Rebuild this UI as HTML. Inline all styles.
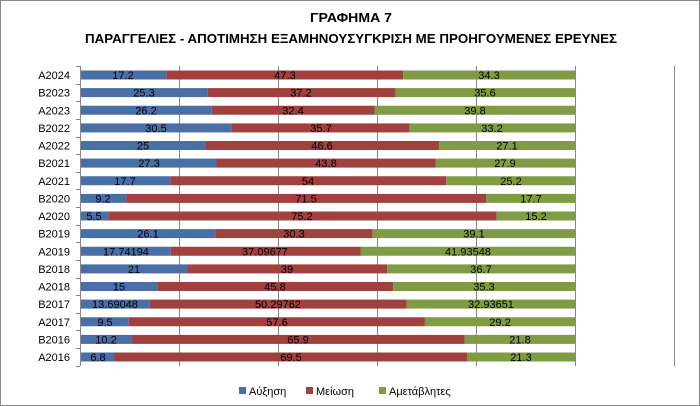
<!DOCTYPE html>
<html><head><meta charset="utf-8"><style>
body{margin:0;background:#fff}
svg{display:block}
text{font-family:"Liberation Sans",sans-serif}
.c{font-size:11px;fill:#000}
.v{font-size:11px;fill:#000;text-anchor:middle}
.t{font-size:13px;font-weight:bold;text-anchor:middle}
</style></head><body>
<svg width="700" height="406" viewBox="0 0 700 406">
<rect x="0.5" y="0.5" width="699" height="405" fill="#fff" stroke="#888"/>
<text class="t" x="351" y="22" textLength="82" lengthAdjust="spacingAndGlyphs">ΓΡΑΦΗΜΑ 7</text>
<text class="t" x="351" y="43" textLength="532" lengthAdjust="spacingAndGlyphs">ΠΑΡΑΓΓΕΛΙΕΣ - ΑΠΟΤΙΜΗΣΗ  ΕΞΑΜΗΝΟΥΣΥΓΚΡΙΣΗ ΜΕ ΠΡΟΗΓΟΥΜΕΝΕΣ ΕΡΕΥΝΕΣ</text>
<g stroke="#888" stroke-width="1">
<line x1="179.5" y1="66" x2="179.5" y2="366"/><line x1="278.5" y1="66" x2="278.5" y2="366"/>
<line x1="377.5" y1="66" x2="377.5" y2="366"/><line x1="476.5" y1="66" x2="476.5" y2="366"/>
<line x1="575.5" y1="66" x2="575.5" y2="366"/><line x1="674.5" y1="66" x2="674.5" y2="366"/>
<line x1="80.5" y1="66" x2="80.5" y2="366"/>
</g>
<g stroke="#888"><line x1="76" y1="66.5" x2="80" y2="66.5"/><line x1="76" y1="84.5" x2="80" y2="84.5"/><line x1="76" y1="101.5" x2="80" y2="101.5"/><line x1="76" y1="119.5" x2="80" y2="119.5"/><line x1="76" y1="137.5" x2="80" y2="137.5"/><line x1="76" y1="154.5" x2="80" y2="154.5"/><line x1="76" y1="172.5" x2="80" y2="172.5"/><line x1="76" y1="189.5" x2="80" y2="189.5"/><line x1="76" y1="207.5" x2="80" y2="207.5"/><line x1="76" y1="225.5" x2="80" y2="225.5"/><line x1="76" y1="242.5" x2="80" y2="242.5"/><line x1="76" y1="260.5" x2="80" y2="260.5"/><line x1="76" y1="278.5" x2="80" y2="278.5"/><line x1="76" y1="295.5" x2="80" y2="295.5"/><line x1="76" y1="313.5" x2="80" y2="313.5"/><line x1="76" y1="330.5" x2="80" y2="330.5"/><line x1="76" y1="348.5" x2="80" y2="348.5"/><line x1="76" y1="366.5" x2="80" y2="366.5"/></g>

<g id="bars">
<rect x="81" y="70.5" width="85.2" height="9" fill="#4a6fa5"/><rect x="166.2" y="70.5" width="237" height="9" fill="#a0403f"/><rect x="403.2" y="70.5" width="172.3" height="9" fill="#7f9c44"/>
<rect x="81" y="88.1" width="126.7" height="9" fill="#4a6fa5"/><rect x="207.7" y="88.1" width="187.7" height="9" fill="#a0403f"/><rect x="395.4" y="88.1" width="180.1" height="9" fill="#7f9c44"/>
<rect x="81" y="105.75" width="130.8" height="9" fill="#4a6fa5"/><rect x="211.8" y="105.75" width="163" height="9" fill="#a0403f"/><rect x="374.8" y="105.75" width="200.7" height="9" fill="#7f9c44"/>
<rect x="81" y="123.4" width="150.9" height="9" fill="#4a6fa5"/><rect x="231.9" y="123.4" width="177.8" height="9" fill="#a0403f"/><rect x="409.7" y="123.4" width="165.8" height="9" fill="#7f9c44"/>
<rect x="81" y="141" width="124.4" height="9" fill="#4a6fa5"/><rect x="205.4" y="141" width="233.7" height="9" fill="#a0403f"/><rect x="439.1" y="141" width="136.4" height="9" fill="#7f9c44"/>
<rect x="81" y="158.6" width="135.5" height="9" fill="#4a6fa5"/><rect x="216.5" y="158.6" width="219" height="9" fill="#a0403f"/><rect x="435.5" y="158.6" width="140" height="9" fill="#7f9c44"/>
<rect x="81" y="176.25" width="89.4" height="9" fill="#4a6fa5"/><rect x="170.4" y="176.25" width="275.8" height="9" fill="#a0403f"/><rect x="446.2" y="176.25" width="129.3" height="9" fill="#7f9c44"/>
<rect x="81" y="193.9" width="45.3" height="9" fill="#4a6fa5"/><rect x="126.3" y="193.9" width="359.7" height="9" fill="#a0403f"/><rect x="486" y="193.9" width="89.5" height="9" fill="#7f9c44"/>
<rect x="81" y="211.5" width="27.4" height="9" fill="#4a6fa5"/><rect x="108.4" y="211.5" width="388.2" height="9" fill="#a0403f"/><rect x="496.6" y="211.5" width="78.9" height="9" fill="#7f9c44"/>
<rect x="81" y="229.1" width="134.3" height="9" fill="#4a6fa5"/><rect x="215.3" y="229.1" width="157.1" height="9" fill="#a0403f"/><rect x="372.4" y="229.1" width="203.1" height="9" fill="#7f9c44"/>
<rect x="81" y="246.75" width="89.7" height="9" fill="#4a6fa5"/><rect x="170.7" y="246.75" width="189.8" height="9" fill="#a0403f"/><rect x="360.5" y="246.75" width="215" height="9" fill="#7f9c44"/>
<rect x="81" y="264.4" width="106.5" height="9" fill="#4a6fa5"/><rect x="187.5" y="264.4" width="199.6" height="9" fill="#a0403f"/><rect x="387.1" y="264.4" width="188.4" height="9" fill="#7f9c44"/>
<rect x="81" y="282" width="76.3" height="9" fill="#4a6fa5"/><rect x="157.3" y="282" width="235.9" height="9" fill="#a0403f"/><rect x="393.2" y="282" width="182.3" height="9" fill="#7f9c44"/>
<rect x="81" y="299.6" width="68.9" height="9" fill="#4a6fa5"/><rect x="149.9" y="299.6" width="256.9" height="9" fill="#a0403f"/><rect x="406.8" y="299.6" width="168.7" height="9" fill="#7f9c44"/>
<rect x="81" y="317.25" width="47.8" height="9" fill="#4a6fa5"/><rect x="128.8" y="317.25" width="296.1" height="9" fill="#a0403f"/><rect x="424.9" y="317.25" width="150.6" height="9" fill="#7f9c44"/>
<rect x="81" y="334.9" width="50.6" height="9" fill="#4a6fa5"/><rect x="131.6" y="334.9" width="333.2" height="9" fill="#a0403f"/><rect x="464.8" y="334.9" width="110.7" height="9" fill="#7f9c44"/>
<rect x="81" y="352.5" width="33.5" height="9" fill="#4a6fa5"/><rect x="114.5" y="352.5" width="352.5" height="9" fill="#a0403f"/><rect x="467" y="352.5" width="108.5" height="9" fill="#7f9c44"/>
</g>

<g class="c" text-anchor="end">
<text x="70" y="79">A2024</text><text x="70" y="96.6">B2023</text><text x="70" y="114.3">A2023</text><text x="70" y="131.9">B2022</text><text x="70" y="149.5">A2022</text><text x="70" y="167.1">B2021</text><text x="70" y="184.8">A2021</text><text x="70" y="202.4">B2020</text><text x="70" y="220">A2020</text><text x="70" y="237.6">B2019</text><text x="70" y="255.3">A2019</text><text x="70" y="272.9">B2018</text><text x="70" y="290.5">A2018</text><text x="70" y="308.1">B2017</text><text x="70" y="325.8">A2017</text><text x="70" y="343.4">B2016</text><text x="70" y="361">A2016</text>
</g>

<g class="v">
<text x="123" y="79">17.2</text><text x="285" y="79">47.3</text><text x="489" y="79">34.3</text>
<text x="144" y="96.6">25.3</text><text x="301" y="96.6">37.2</text><text x="485" y="96.6">35.6</text>
<text x="146" y="114.3">26.2</text><text x="293" y="114.3">32.4</text><text x="475" y="114.3">39.8</text>
<text x="156" y="131.9">30.5</text><text x="321" y="131.9">35.7</text><text x="492" y="131.9">33.2</text>
<text x="143" y="149.5">25</text><text x="322" y="149.5">46.6</text><text x="507" y="149.5">27.1</text>
<text x="149" y="167.1">27.3</text><text x="326" y="167.1">43.8</text><text x="505" y="167.1">27.9</text>
<text x="125" y="184.8">17.7</text><text x="308" y="184.8">54</text><text x="511" y="184.8">25.2</text>
<text x="103" y="202.4">9.2</text><text x="306" y="202.4">71.5</text><text x="531" y="202.4">17.7</text>
<text x="94" y="220">5.5</text><text x="302" y="220">75.2</text><text x="536" y="220">15.2</text>
<text x="148" y="237.6">26.1</text><text x="294" y="237.6">30.3</text><text x="474" y="237.6">39.1</text>
<text x="126" y="255.3">17.74194</text><text x="265" y="255.3">37.09677</text><text x="468" y="255.3">41.93548</text>
<text x="134" y="272.9">21</text><text x="287" y="272.9">39</text><text x="481" y="272.9">36.7</text>
<text x="119" y="290.5">15</text><text x="275" y="290.5">45.8</text><text x="484" y="290.5">35.3</text>
<text x="115" y="308.1">13.69048</text><text x="278" y="308.1">50.29762</text><text x="491" y="308.1">32.93651</text>
<text x="105" y="325.8">9.5</text><text x="277" y="325.8">57.6</text><text x="500" y="325.8">29.2</text>
<text x="106" y="343.4">10.2</text><text x="298" y="343.4">65.9</text><text x="520" y="343.4">21.8</text>
<text x="98" y="361">6.8</text><text x="291" y="361">69.5</text><text x="521" y="361">21.3</text>
</g>

<rect x="239" y="387" width="7" height="7" fill="#4a6fa5"/><text class="c" x="249" y="395">Αύξηση</text>
<rect x="306" y="387" width="7" height="7" fill="#a0403f"/><text class="c" x="316" y="395">Μείωση</text>
<rect x="379" y="387" width="7" height="7" fill="#7f9c44"/><text class="c" x="389" y="395">Αμετάβλητες</text>
</svg>
</body></html>
